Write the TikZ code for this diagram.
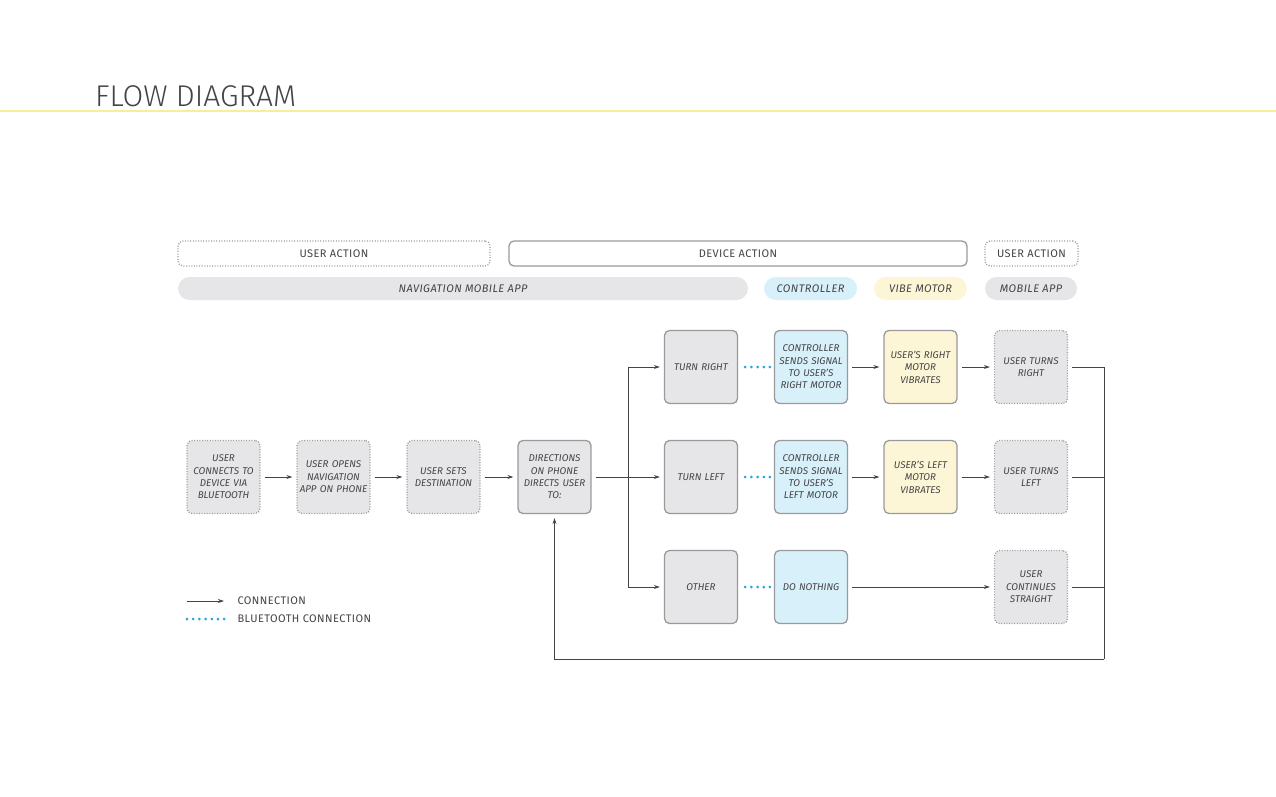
\documentclass[tikz,border=0pt]{standalone}
\usepackage{fontspec}
\setmainfont{Fira Sans}
\newfontfamily\titlefont{Fira Sans Light}
\newfontfamily\spacedfont{Fira Sans}[LetterSpace=4]
\usetikzlibrary{arrows.meta}
\definecolor{txt}{HTML}{444446}
\definecolor{boxline}{HTML}{9A9A9C}
\definecolor{boxgray}{HTML}{E6E6E8}
\definecolor{boxblue}{HTML}{D8F0FA}
\definecolor{boxyellow}{HTML}{FDF6D6}
\definecolor{btblue}{HTML}{1FA9E1}
\definecolor{rule}{HTML}{F6EE98}
\begin{document}
\begin{tikzpicture}[x=1pt, y=-1pt,
    box/.style={rounded corners=5pt, draw=boxline, fill=boxgray, line width=1.3pt,
      minimum width=73pt, minimum height=73pt, text width=71pt, inner sep=1pt, align=center,
      text=txt, font=\itshape\fontsize{9.8}{12.4}\selectfont},
    dotbox/.style={box, dash pattern=on 1pt off 1.6pt},
    header/.style={rounded corners=5pt, draw=boxline, line width=1.3pt, minimum height=25pt,
      text=txt, font=\spacedfont\fontsize{11}{12}\selectfont},
    pill/.style={rounded corners=11.5pt, fill=boxgray, minimum height=23pt,
      text=txt, font=\spacedfont\itshape\fontsize{11}{12}\selectfont},
    conn/.style={draw=txt, line width=0.8pt, -{Stealth[length=6pt,width=4pt]},
      shorten <=4pt, shorten >=4pt},
    link/.style={draw=txt, line width=0.8pt},
    bt/.style={draw=btblue, line width=3pt, line cap=round, dash pattern=on 0pt off 6.2pt,
      shorten <=7pt, shorten >=3.5pt}]
    \useasboundingbox (0,0) rectangle (1276,796);

    % title
    \node[anchor=base west, inner sep=0pt, text=txt, font=\titlefont\fontsize{30}{32}\selectfont] (title) at (95,106) {FLOW DIAGRAM};
    \draw[rule, line width=2pt] (0,111) -- (1276,111);

    % headers
    \node[header, dash pattern=on 1pt off 1.6pt, minimum width=312pt] (h1) at (334,253.5) {USER ACTION};
    \node[header, minimum width=458pt] (h2) at (738,253.5) {DEVICE ACTION};
    \node[header, dash pattern=on 1pt off 1.6pt, minimum width=93pt] (h3) at (1031.5,253.5) {USER ACTION};
    \node[pill, minimum width=570pt] (p1) at (463,288.5) {NAVIGATION MOBILE APP};
    \node[pill, fill=boxblue, minimum width=93pt] (p2) at (810.5,288.5) {CONTROLLER};
    \node[pill, fill=boxyellow, minimum width=93pt] (p3) at (920.5,288.5) {VIBE MOTOR};
    \node[pill, minimum width=92pt] (p4) at (1031,288.5) {MOBILE APP};

    % boxes
    \draw (223.5,477) node[dotbox](b1){USER\\CONNECTS TO\\DEVICE VIA\\BLUETOOTH}
          (333.5,477) node[dotbox](b2){USER OPENS\\NAVIGATION\\APP ON PHONE}
          (443.5,477) node[dotbox](b3){USER SETS\\DESTINATION}
          (554.5,477) node[box](b4){DIRECTIONS\\ON PHONE\\DIRECTS USER\\TO:}
          (701,367) node[box](r1){TURN RIGHT}
          (811,367) node[box, fill=boxblue](r2){CONTROLLER\\SENDS SIGNAL\\TO USER'S\\RIGHT MOTOR}
          (920.5,367) node[box, fill=boxyellow](r3){USER'S RIGHT\\MOTOR\\VIBRATES}
          (1031,367) node[dotbox](r4){USER TURNS\\RIGHT}
          (701,477) node[box](l1){TURN LEFT}
          (811,477) node[box, fill=boxblue](l2){CONTROLLER\\SENDS SIGNAL\\TO USER'S\\LEFT MOTOR}
          (920.5,477) node[box, fill=boxyellow](l3){USER'S LEFT\\MOTOR\\VIBRATES}
          (1031,477) node[dotbox](l4){USER TURNS\\LEFT}
          (701,587) node[box](o1){OTHER}
          (811,587) node[box, fill=boxblue](o2){DO NOTHING}
          (1031,587) node[dotbox](o4){USER\\CONTINUES\\STRAIGHT};

    \coordinate (split) at (628,477);
    \coordinate (back) at (1104,659);

    \draw[conn] (b1) -- (b2);
    \draw[conn] (b2) -- (b3);
    \draw[conn] (b3) -- (b4);
    \draw[link, shorten <=4pt] (b4) -- (split);
    \draw[conn, shorten <=0pt] (split) |- (r1);
    \draw[conn, shorten <=0pt] (split) -- (l1);
    \draw[conn, shorten <=0pt] (split) |- (o1);
    \draw[bt] (r1) -- (r2);
    \draw[bt] (l1) -- (l2);
    \draw[bt] (o1) -- (o2);
    \draw[conn] (r2) -- (r3);
    \draw[conn] (r3) -- (r4);
    \draw[conn] (l2) -- (l3);
    \draw[conn] (l3) -- (l4);
    \draw[conn] (o2) -- (o4);
    \draw[link, shorten <=4pt] (r4) -| (back);
    \draw[link, shorten <=4pt] (l4.east) -- (l4.east -| back);
    \draw[link, shorten <=4pt] (o4.east) -- (o4.east -| back);
    \draw[conn, shorten <=0pt] (back) -| (b4.south);

    % legend
    \coordinate (k1) at (187,601);
    \coordinate (k2) at (224,601);
    \coordinate (k3) at (187,619);
    \coordinate (k4) at (224.5,619);
    \draw[conn, shorten <=0pt, shorten >=0pt] (k1) -- (k2);
    \draw[bt, shorten <=0pt, shorten >=0pt] (k3) -- (k4);
    \node[anchor=west, text=txt, font=\spacedfont\fontsize{11}{12}\selectfont] (t1) at (234,601) {CONNECTION};
    \node[anchor=west, text=txt, font=\spacedfont\fontsize{11}{12}\selectfont] (t2) at (234,619) {BLUETOOTH CONNECTION};
\end{tikzpicture}
\end{document}
